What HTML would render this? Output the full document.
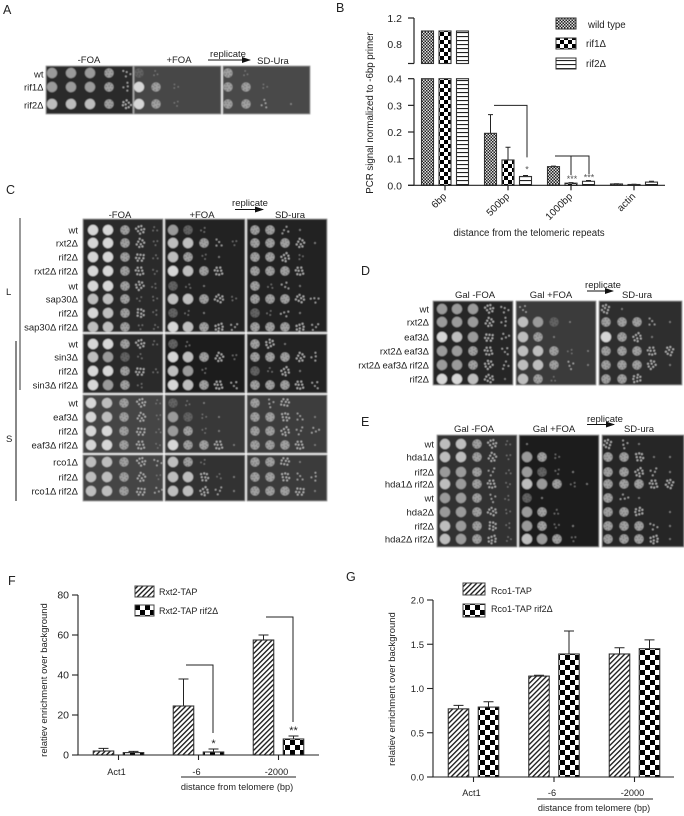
<!DOCTYPE html>
<html lang="en">
<head>
<meta charset="utf-8">
<title>Telomere silencing figure</title>
<style>
html,body{margin:0;padding:0;background:#fff;}
svg{display:block;}
text{font-family:"Liberation Sans",sans-serif;fill:#222;font-size:9.5px;}
.h{text-anchor:middle;font-size:9.5px;}
.p{font-size:12.5px;}
</style>
</head>
<body>
<svg id="fig" width="684" height="816" viewBox="0 0 684 816" xmlns="http://www.w3.org/2000/svg">
<defs>
<pattern id="pFine" width="3" height="3" patternUnits="userSpaceOnUse"><rect width="3" height="3" fill="#ddd"/><rect width="1.5" height="1.5" fill="#222"/><rect x="1.5" y="1.5" width="1.5" height="1.5" fill="#222"/></pattern>
<pattern id="pCheckB" width="8" height="8" patternUnits="userSpaceOnUse"><rect width="8" height="8" fill="#fff"/><rect width="4" height="4" fill="#000"/><rect x="4" y="4" width="4" height="4" fill="#000"/></pattern>
<pattern id="pLines" width="4" height="4" patternUnits="userSpaceOnUse"><rect width="4" height="4" fill="#fff"/><rect width="4" height="1.1" fill="#222"/></pattern>
<pattern id="pHatch" width="3.6" height="3.6" patternUnits="userSpaceOnUse" patternTransform="rotate(45)"><rect width="3.6" height="3.6" fill="#fff"/><rect width="1.4" height="3.6" fill="#222"/></pattern>
<pattern id="pCheck" width="10" height="10" patternUnits="userSpaceOnUse"><rect width="10" height="10" fill="#fff"/><rect width="5" height="5" fill="#000"/><rect x="5" y="5" width="5" height="5" fill="#000"/></pattern>
<marker id="arrowHead" markerWidth="9" markerHeight="6" refX="8" refY="3" orient="auto"><path d="M0 0L9 3L0 6z" fill="#111"/></marker>
<filter id="soft" x="-5%" y="-5%" width="110%" height="110%"><feGaussianBlur stdDeviation="0.4"/></filter>
</defs>

<g id="plates" filter="url(#soft)"></g>

<g>
<text class="p" x="3" y="14">A</text>
<text class="h" x="89" y="63">-FOA</text>
<text class="h" x="179" y="63">+FOA</text>
<text class="h" x="273" y="64">SD-Ura</text>
<text class="h" x="228" y="57">replicate</text>
<line x1="208" y1="60" x2="250" y2="60" stroke="#111" stroke-width="1" marker-end="url(#arrowHead)"/>
</g>

<g>
<text class="p" x="6" y="194">C</text>
<text class="h" x="120" y="218">-FOA</text>
<text class="h" x="202" y="218">+FOA</text>
<text class="h" x="290" y="218">SD-ura</text>
<text class="h" x="250" y="206">replicate</text>
<line x1="235" y1="209.500" x2="263" y2="209.500" stroke="#111" stroke-width="1" marker-end="url(#arrowHead)"/>
<text x="6" y="295">L</text>
<text x="6" y="442">S</text>
<line x1="20" y1="218" x2="20" y2="390" stroke="#333" stroke-width="1"/>
<line x1="16" y1="341" x2="16" y2="501" stroke="#111" stroke-width="1"/>
</g>

<g>
<text class="p" x="361" y="275">D</text>
<text class="h" x="475" y="298">Gal -FOA</text>
<text class="h" x="551" y="298">Gal +FOA</text>
<text class="h" x="637" y="298">SD-ura</text>
<text class="h" x="603" y="288">replicate</text>
<line x1="587" y1="291" x2="613" y2="291" stroke="#111" stroke-width="1" marker-end="url(#arrowHead)"/>
</g>

<g>
<text class="p" x="361" y="426">E</text>
<text class="h" x="474" y="432">Gal -FOA</text>
<text class="h" x="554" y="432">Gal +FOA</text>
<text class="h" x="639" y="432">SD-ura</text>
<text class="h" x="605" y="422">replicate</text>
<line x1="587" y1="424.500" x2="614" y2="424.500" stroke="#111" stroke-width="1" marker-end="url(#arrowHead)"/>
</g>

<g id="chartB">
<text class="p" x="336" y="12">B</text>
<text x="0" y="0" transform="translate(373,113) rotate(-90)" text-anchor="middle" style="font-size:9.7px">PCR signal normalized to -6bp primer</text>
<text x="529" y="236" text-anchor="middle" style="font-size:9.7px">distance from the telomeric repeats</text>
<rect x="556" y="18" width="20" height="11" fill="url(#pFine)" stroke="#333"/>
<rect x="556" y="38" width="20" height="11" fill="url(#pCheckB)" stroke="#333"/>
<rect x="556" y="58" width="20" height="11" fill="url(#pLines)" stroke="#333"/>
<text x="588" y="28" style="font-size:9.7px">wild type</text>
<text x="586" y="47" style="font-size:9.7px">rif1Δ</text>
<text x="586" y="67" style="font-size:9.7px">rif2Δ</text>
</g>

<g id="chartF">
<text class="p" x="8" y="585">F</text>
<text x="0" y="0" transform="translate(47,680) rotate(-90)" text-anchor="middle" style="font-size:9.5px">relatiev enrichment over background</text>
<rect x="135" y="586" width="19" height="11" fill="url(#pHatch)" stroke="#444"/>
<rect x="135" y="605" width="19" height="11" fill="url(#pCheck)" stroke="#444"/>
<text x="159" y="595" style="font-size:9px">Rxt2-TAP</text>
<text x="159" y="614" style="font-size:9px">Rxt2-TAP rif2Δ</text>
<line x1="181" y1="777" x2="296" y2="777" stroke="#222"/>
<text x="237" y="790" text-anchor="middle" style="font-size:9.2px">distance from telomere (bp)</text>
</g>

<g id="chartG">
<text class="p" x="346" y="581">G</text>
<text x="0" y="0" transform="translate(395,689) rotate(-90)" text-anchor="middle" style="font-size:9.5px">relatiev enrichment over background</text>
<rect x="463" y="583" width="22" height="12" fill="url(#pHatch)" stroke="#444"/>
<rect x="463" y="604" width="22" height="13" fill="url(#pCheck)" stroke="#444"/>
<text x="491" y="594" style="font-size:9px">Rco1-TAP</text>
<text x="491" y="612" style="font-size:9px">Rco1-TAP rif2Δ</text>
<line x1="537" y1="799" x2="653" y2="799" stroke="#222"/>
<text x="594" y="811" text-anchor="middle" style="font-size:9.2px">distance from telomere (bp)</text>
</g>
</svg>

<script>
/* ---------- Chart B data ---------- */
const bCategories = ['6bp', '500bp', '1000bp', 'actin'];
const bWild = [1.0, 0.195, 0.07, 0.005];
const bRif1 = [1.0, 0.095, 0.008, 0.003];
const bRif2 = [1.0, 0.033, 0.015, 0.012];
const bWildErr = [0, 0.07, 0.002, 0.001];
const bRif1Err = [0, 0.048, 0.002, 0.001];
const bRif2Err = [0, 0.004, 0.003, 0.003];
const bLowerTicks = [0.0, 0.1, 0.2, 0.3, 0.4];
const bUpperLabels = [0.8, 1.2];

/* ---------- Chart F data ---------- */
const fCategories = ['Act1', '-6', '-2000'];
const fRxt2 = [2, 24.5, 57.5];
const fRxt2Rif2 = [1.2, 1.5, 8];
const fRxt2Err = [1.3, 13.5, 2.5];
const fRxt2Rif2Err = [0.6, 1.5, 1.5];
const fTicks = [0, 20, 40, 60, 80];

/* ---------- Chart G data ---------- */
const gCategories = ['Act1', '-6', '-2000'];
const gRco1 = [0.77, 1.14, 1.39];
const gRco1Rif2 = [0.79, 1.39, 1.45];
const gRco1Err = [0.04, 0.01, 0.07];
const gRco1Rif2Err = [0.06, 0.26, 0.10];
const gTicks = [0.0, 0.5, 1.0, 1.5, 2.0];

/* ---------- Spot assay data: one code per dilution ---------- */
const aRows = ['wt', 'rif1Δ', 'rif2Δ'];
const aMinus = ['MMMTc', 'MMMTc', 'BBBTC'];
const aPlus = ['tf___', 'WTf__', 'WTf__'];
const aSd = ['Tf___', 'TTf__', 'TTc_.'];

const c1Rows = ['wt', 'rxt2Δ', 'rif2Δ', 'rxt2Δ rif2Δ', 'wt', 'sap30Δ', 'rif2Δ', 'sap30Δ rif2Δ'];
const c1Minus = ['WWTCf', 'WWTCf', 'WWTCf', 'WWTCf', 'WWTCf', 'BBTff', 'WBTCf', 'BBTff'];
const c1Plus = ['Mtf__', 'BBTcf', 'BTf._', 'WBTC_', 'tf.__', 'BBTCf', 'tf.__', 'WBTCc'];
const c1Sd = ['TTc._', 'TTTC.', 'TTCf_', 'TTTC_', 'Tfc._', 'TTTCc', 'tfc._', 'TTTCc'];

const c2Rows = ['wt', 'sin3Δ', 'rif2Δ', 'sin3Δ rif2Δ'];
const c2Minus = ['WWTCf', 'BMtf_', 'WWTCf', 'WMTf_'];
const c2Plus = ['tf___', 'WBTCf', 'BMf__', 'WBTCc'];
const c2Sd = ['TC.__', 'TTTCc', 'tfC._', 'TTTCc'];

const c3Rows = ['wt', 'eaf3Δ', 'rif2Δ', 'eaf3Δ rif2Δ'];
const c3Minus = ['WBTCf', 'WBTCf', 'WWTCf', 'WWTCf'];
const c3Plus = ['tf.__', 'Mtf._', 'MTf._', 'WTTC.'];
const c3Sd = ['TcC__', 'TTCc.', 'TTCcc', 'TTTC.'];

const c4Rows = ['rco1Δ', 'rif2Δ', 'rco1Δ rif2Δ'];
const c4Minus = ['BBTCc', 'BBTCf', 'BBTCc'];
const c4Plus = ['BTf__', 'BBCf.', 'BBCc.'];
const c4Sd = ['TTC._', 'TTCcc', 'TTTC.'];

const dRows = ['wt', 'rxt2Δ', 'eaf3Δ', 'rxt2Δ eaf3Δ', 'rxt2Δ eaf3Δ rif2Δ', 'rif2Δ'];
const dMinus = ['MMMCc', 'MMMCc', 'WBMCc', 'MMTCc', 'MMTCc', 'WWBC.'];
const dPlus = ['c____', 'BMt._', 'BT.__', 'BBTf.', 'BBTc.', 'BTf__'];
const dSd = ['C.___', 'TTTc.', 'WTC._', 'TTTCC', 'TTTC.', 'TTC__'];

const eRows = ['wt', 'hda1Δ', 'rif2Δ', 'hda1Δ rif2Δ', 'wt', 'hda2Δ', 'rif2Δ', 'hda2Δ rif2Δ'];
const eMinus = ['BBTCf', 'BBTCf', 'MMTcf', 'BMTCf', 'MMTcf', 'MMTCf', 'BMTCf', 'BMTCf'];
const ePlus = ['.____', 'MTf__', 'Mtf._', 'BMTf.', 't.___', 'MTf__', 'MTf._', 'BMTf_'];
const eSd = ['Cc.__', 'TTC..', 'TTCc.', 'TTTCC', 'Tc.__', 'TTC_.', 'TTTc.', 'TTTC.'];

const NS = 'http://www.w3.org/2000/svg';
function make(tag, parent, props) {
  const n = document.createElementNS(NS, tag);
  for (const k in props) n.setAttribute(k, props[k]);
  parent.appendChild(n);
  return n;
}

/* ---------- Spot drawing ---------- */
const solidShades = { W: '#d6d6d6', B: '#bdbdbd', M: '#9a9a9a' };
const speckle = [[-2,-2],[1,-3],[3,0],[-3,1],[0,1],[2,3],[-1,3]];
const colonyMany = [[-3,-3],[0,-4],[3,-2],[-4,1],[-1,-1],[2,1],[-2,3],[1,4]];
const colonyFew = [[-3,-2],[2,-3],[0,1],[3,3]];
const colonyFaint = [[-2,-1],[2,0],[0,3]];

function drawSpot(parent, code, x, y, turn) {
  if (code === '_') return;
  const g = make('g', parent, { transform: 'translate(' + x + ',' + y + ') rotate(' + turn + ')' });
  
  
  if (solidShades[code]) {
    make('circle', g, { r: 5.2, fill: solidShades[code] });
  } else if (code === 'T' || code === 't') {
    make('circle', g, { r: 4.6, fill: code === 'T' ? '#a0a0a0' : '#646464' });
    speckle.forEach(p => make('circle', g, { cx: p[0], cy: p[1], r: 0.7, fill: code === 'T' ? '#6e6e6e' : '#444' }));
  } else if (code === 'C') {
    colonyMany.forEach(p => make('circle', g, { cx: p[0], cy: p[1], r: 0.95, fill: '#c0c0c0' }));
  } else if (code === 'c') {
    colonyFew.forEach(p => make('circle', g, { cx: p[0], cy: p[1], r: 0.8, fill: '#bdbdbd' }));
  } else if (code === 'f') {
    colonyFaint.forEach(p => make('circle', g, { cx: p[0], cy: p[1], r: 0.7, fill: '#8a8a8a' }));
  } else if (code === '.') {
    make('circle', g, { r: 0.8, fill: '#9a9a9a' });
  }
}

const platesGroup = document.getElementById('plates');
const svgRoot = document.getElementById('fig');

function drawPlate(x0, y0, x1, y1, fill, colXs, rowYs, codes) {
  const g = make('g', platesGroup, {});
  
  
  const r = make('rect', g, { x: x0, y: y0, width: x1 - x0, height: y1 - y0, fill: fill, stroke: '#9a9a9a', 'stroke-width': 0.8 });
  
  
  codes.forEach((row, i) => {
    for (let j = 0; j < row.length; j++) drawSpot(g, row[j], colXs[j], rowYs[i], (i * 67 + j * 41) % 360);
  });
}

function drawRowLabels(labels, rowYs, rightX) {
  labels.forEach((t, i) => {
    const n = make('text', svgRoot, { x: rightX, y: rowYs[i] + 3.5, 'text-anchor': 'end' });
    
    
    n.textContent = t;
  });
}

/* Panel A */
const aY = [73, 87, 104];
drawPlate(46, 66, 133, 114, '#2c2c2c', [52, 71, 90, 109, 127], aY, aMinus);
drawPlate(134, 66, 221, 114, '#464646', [139, 156, 176, 195, 214], aY, aPlus);
drawPlate(223, 66, 310, 114, '#4a4a4a', [228, 246, 265, 283, 291], aY, aSd);
drawRowLabels(aRows, [74, 87, 105], 43.5);

/* Panel C */
const cX1 = [93, 108, 125, 140, 155], cX2 = [173, 188, 204, 219, 234], cX3 = [255, 270, 285, 300, 315];
const c1Y = [230, 243, 257, 271, 286, 299, 313, 327];
const c2Y = [344, 357, 371, 385];
const c3Y = [403, 417, 431, 445];
const c4Y = [462, 477, 491];
drawPlate(83, 219, 163, 332, '#2a2a2a', cX1, c1Y, c1Minus);
drawPlate(165, 219, 245, 332, '#232323', cX2, c1Y, c1Plus);
drawPlate(247, 219, 327, 332, '#242424', cX3, c1Y, c1Sd);
drawPlate(83, 334, 163, 393, '#2a2a2a', cX1, c2Y, c2Minus);
drawPlate(165, 334, 245, 393, '#1f1f1f', cX2, c2Y, c2Plus);
drawPlate(247, 334, 327, 393, '#222222', cX3, c2Y, c2Sd);
drawPlate(83, 395, 163, 453, '#444444', [91, 107, 124, 141, 158], c3Y, c3Minus);
drawPlate(165, 395, 245, 453, '#383838', cX2, c3Y, c3Plus);
drawPlate(247, 395, 327, 453, '#3c3c3c', cX3, c3Y, c3Sd);
drawPlate(83, 455, 163, 501, '#444444', [91, 107, 124, 141, 158], c4Y, c4Minus);
drawPlate(165, 455, 245, 501, '#333333', cX2, c4Y, c4Plus);
drawPlate(247, 455, 327, 501, '#3a3a3a', cX3, c4Y, c4Sd);
drawRowLabels(c1Rows, c1Y, 78);
drawRowLabels(c2Rows, c2Y, 78);
drawRowLabels(c3Rows, c3Y, 78);
drawRowLabels(c4Rows, c4Y, 78);

/* Panel D */
const dY = [309, 322, 337, 351, 365, 379];
drawPlate(433, 301, 513, 385, '#282828', [442, 457, 473, 489, 505], dY, dMinus);
drawPlate(516, 301, 596, 385, '#3a3a3a', [523, 538, 554, 570, 588], dY, dPlus);
drawPlate(599, 301, 682, 385, '#2d2d2d', [606, 622, 637, 652, 670], dY, dSd);
drawRowLabels(dRows, dY, 429);

/* Panel E */
const eY = [444, 457, 472, 484, 498, 512, 526, 539];
drawPlate(437, 435, 517, 547, '#333333', [445, 461, 477, 492, 508], eY, eMinus);
drawPlate(519, 435, 599, 547, '#1f1f1f', [527, 542, 557, 573, 587], eY, ePlus);
drawPlate(602, 435, 684, 547, '#282828', [608, 624, 639, 654, 670], eY, eSd);
drawRowLabels(eRows, eY, 434);

/* ---------- Shared chart primitives ---------- */
function axisLine(parent, x1, y1, x2, y2, name, width) {
  const l = make('line', parent, { x1: x1, y1: y1, x2: x2, y2: y2, stroke: '#222', 'stroke-width': width || 1 });
  
  
  return l;
}
function label(parent, x, y, txt, anchor, size, name) {
  const t = make('text', parent, { x: x, y: y, 'text-anchor': anchor, style: 'font-size:' + size + 'px' });
  
  
  t.textContent = txt;
  return t;
}
function barRect(parent, x, yTop, w, yBottom, fill, name) {
  const r = make('rect', parent, { x: x, y: yTop, width: w, height: Math.max(0, yBottom - yTop), fill: fill, stroke: '#333', 'stroke-width': 1.1 });
  
  
  return r;
}
function errorBar(parent, cx, yBase, yTop, cap, name) {
  const p = make('path', parent, { d: 'M' + cx + ' ' + yBase + 'V' + yTop + 'M' + (cx - cap) + ' ' + yTop + 'H' + (cx + cap), stroke: '#222', 'stroke-width': 1, fill: 'none' });
  
  
}
function bracket(parent, d, name) {
  const p = make('path', parent, { d: d, stroke: '#222', 'stroke-width': 1, fill: 'none' });
  
  
}

/* ---------- Chart B: broken y axis ---------- */
(function () {
  const g = document.getElementById('chartB');
  const axisX = 414, tickX = 408;
  const yLow = v => 185.3 - v * 266.5;
  const yUp = v => 18 + (1.2 - v) * 65;
  const breakBottom = 0.5;
  const xGroup = i => 445 + i * 63;
  const barW = 12, offset = 17.5;
  const series = [
    { name: 'wild-type', vals: bWild, errs: bWildErr, fill: 'url(#pFine)', shift: -1 },
    { name: 'rif1', vals: bRif1, errs: bRif1Err, fill: 'url(#pCheckB)', shift: 0 },
    { name: 'rif2', vals: bRif2, errs: bRif2Err, fill: 'url(#pLines)', shift: 1 }
  ];
  series.forEach(s => {
    s.vals.forEach((v, i) => {
      const cx = xGroup(i) + s.shift * offset;
      const x = cx - barW / 2;
      if (s.errs[i] > 0) errorBar(g, cx, yLow(v), yLow(v + s.errs[i]), 2.5, 'error-bar-' + s.name);
      if (v > 0.4) {
        barRect(g, x, yUp(v), barW, yUp(breakBottom), s.fill, 'bar-upper-' + s.name);
        barRect(g, x, yLow(0.4), barW, yLow(0), s.fill, 'bar-' + s.name);
      } else {
        barRect(g, x, yLow(v), barW, yLow(0), s.fill, 'bar-' + s.name);
      }
    });
  });
  axisLine(g, axisX, yUp(1.2), axisX, yUp(breakBottom), 'y-axis-upper', 1.2);
  axisLine(g, axisX, yLow(0.4), axisX, yLow(0), 'y-axis-lower', 1.2);
  axisLine(g, tickX, yLow(0), 665, yLow(0), 'x-axis', 1.2);
  axisLine(g, tickX, yUp(1.2), axisX, yUp(1.2), 'y-tick', 1.2);
  axisLine(g, tickX, yUp(breakBottom), axisX, yUp(breakBottom), 'y-tick', 1.2);
  bLowerTicks.forEach(v => {
    axisLine(g, tickX, yLow(v), axisX, yLow(v), 'y-tick', 1.2);
    label(g, 402, yLow(v) + 4, v.toFixed(1), 'end', 10.5, 'y-tick-label');
  });
  bUpperLabels.forEach(v => label(g, 402, yUp(v) + 4, v.toFixed(1), 'end', 10.5, 'y-tick-label'));
  bCategories.forEach((c, i) => {
    axisLine(g, xGroup(i), yLow(0), xGroup(i), yLow(0) + 5, 'x-tick', 1.2);
    const t = label(g, 0, 0, c, 'end', 10, 'x-tick-label');
    t.setAttribute('transform', 'translate(' + (xGroup(i) + 2) + ',197) rotate(-45)');
  });
  const x500 = xGroup(1), x1000 = xGroup(2);
  bracket(g, 'M' + (x500 - 14) + ' ' + yLow(0.3) + 'H' + (x500 + 19) + 'V' + yLow(0.105), 'significance-bracket-500bp');
  bracket(g, 'M' + (x1000 - 16) + ' ' + yLow(0.11) + 'H' + (x1000 + 18) + 'V' + yLow(0.042) + 'M' + x1000 + ' ' + yLow(0.11) + 'V' + yLow(0.038), 'significance-bracket-1000bp');
  label(g, x500 + 19, yLow(0.033) - 4, '*', 'middle', 9, 'significance-star').style.fill = '#555';
  label(g, x1000 + 1, yLow(0.008) - 1, '***', 'middle', 9, 'significance-star').style.fill = '#555';
  label(g, x1000 + 18, yLow(0.015) - 1, '***', 'middle', 9, 'significance-star').style.fill = '#555';
})();

/* ---------- Charts F and G ---------- */
function groupedBars(opts) {
  const g = document.getElementById(opts.id);
  const y = opts.y, x = opts.x;
  opts.a.forEach((v, i) => {
    const cx = x(i) - opts.offset;
    errorBar(g, cx, y(v), y(v + opts.aErr[i]), 5, 'error-bar-series-1');
    barRect(g, cx - opts.w / 2, y(v), opts.w, y(0), 'url(#pHatch)', 'bar-series-1');
  });
  opts.b.forEach((v, i) => {
    const cx = x(i) + opts.offset;
    errorBar(g, cx, y(v), y(v + opts.bErr[i]), 5, 'error-bar-series-2');
    barRect(g, cx - opts.w / 2, y(v), opts.w, y(0), 'url(#pCheck)', 'bar-series-2');
  });
  axisLine(g, opts.axisX, y(opts.ticks[opts.ticks.length - 1]), opts.axisX, y(0), 'y-axis', 1.1);
  axisLine(g, opts.axisX - 6, y(0), opts.xEnd, y(0), 'x-axis', 1.1);
  opts.ticks.forEach(v => {
    axisLine(g, opts.axisX - 6, y(v), opts.axisX, y(v), 'y-tick', 1.1);
    label(g, opts.axisX - 9, y(v) + 3.5, opts.fmt(v), 'end', opts.tickSize, 'y-tick-label');
  });
  opts.cats.forEach((c, i) => {
    axisLine(g, x(i), y(0), x(i), y(0) + 5, 'x-tick', 1.1);
    label(g, x(i) - 2, opts.catY, c, 'middle', 9.2, 'x-tick-label');
  });
  return { g: g, x: x, y: y };
}

(function () {
  const c = groupedBars({
    id: 'chartF', a: fRxt2, b: fRxt2Rif2, aErr: fRxt2Err, bErr: fRxt2Rif2Err, cats: fCategories, ticks: fTicks,
    y: v => 755 - v * 2, x: i => 118.5 + i * 80, offset: 15, w: 20.5, axisX: 78, xEnd: 319,
    fmt: v => String(v), tickSize: 10.5, catY: 775
  });
  bracket(c.g, 'M186 ' + c.y(45) + 'H213V' + c.y(11), 'significance-bracket-minus-6');
  bracket(c.g, 'M266 ' + c.y(69) + 'H293V' + c.y(16.5), 'significance-bracket-minus-2000');
  label(c.g, c.x(1) + 15, c.y(5.5) + 3, '*', 'middle', 11, 'significance-star');
  label(c.g, c.x(2) + 15, c.y(12) + 3, '**', 'middle', 11, 'significance-star');
})();

groupedBars({
  id: 'chartG', a: gRco1, b: gRco1Rif2, aErr: gRco1Err, bErr: gRco1Rif2Err, cats: gCategories, ticks: gTicks,
  y: v => 777 - v * 88.5, x: i => 473.5 + i * 80.5, offset: 15, w: 20.5, axisX: 433, xEnd: 674,
  fmt: v => v.toFixed(1), tickSize: 9.5, catY: 796
});
</script>
</body>
</html>
